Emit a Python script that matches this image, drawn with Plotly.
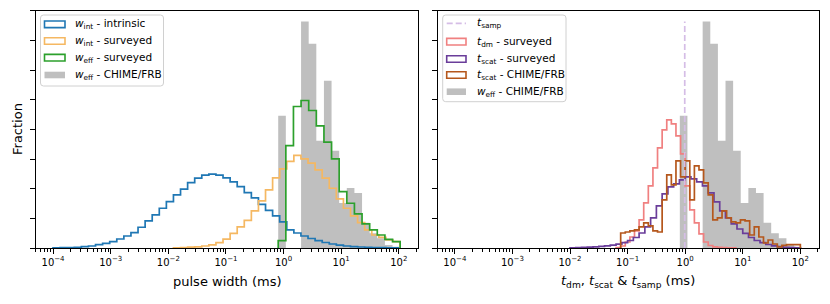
import numpy as np
import plotly.graph_objects as go

# ---------------- data ----------------
# histogram bins (log10 of ms): start, width, count
WINT_LOG0, WINT_DLOG, WINT_N = -4.0, 0.1229, 49
WEFF_LOG0, WEFF_DLOG, WEFF_N = -0.093, 0.13225, 16
TDM_LOG0, TDM_DLOG = -1.20, 0.08
TSCAT_LOG0, TSCAT_DLOG = -2.00, 0.10
TCHIME_LOG0, TCHIME_DLOG = -1.12, 0.08
SURV_START_BIN = 17   # first w_int bin with surveyed counts

# fractions (percent)
w_int_intrinsic = [0.007, 0.010, 0.014, 0.024, 0.044, 0.068, 0.111, 0.159, 0.213, 0.304,
                   0.405, 0.517, 0.699, 0.912, 1.114, 1.340, 1.563, 1.789, 1.982, 2.205,
                   2.353, 2.454, 2.488, 2.454, 2.363, 2.228, 2.069, 1.867, 1.688, 1.469,
                   1.266, 1.080, 0.878, 0.608, 0.506, 0.405, 0.321, 0.246, 0.186, 0.135,
                   0.095, 0.068, 0.047, 0.034, 0.024, 0.017, 0.010, 0.007, 0.003]
w_int_surveyed = [0.007, 0.014, 0.027, 0.041, 0.068, 0.108, 0.179, 0.297, 0.490, 0.709,
                  0.928, 1.249, 1.587, 1.958, 2.363, 2.667, 2.920, 3.123, 3.005, 2.859,
                  2.633, 2.353, 2.015, 1.654, 1.340, 1.080, 0.854, 0.608, 0.439, 0.361,
                  0.270, 0.213]
w_eff_surveyed = [0.246, 3.454, 4.770, 4.973, 4.635, 4.119, 3.568, 3.005, 1.901, 1.509,
                  1.148, 0.810, 0.608, 0.439, 0.294, 0.213]
w_eff_chime = [4.456, 0.0, 0.0, 7.640, 6.887, 3.612, 5.638, 3.275, 1.519, 2.026,
               1.857, 0.854, 0.496, 0.327, 0.101, 0.044]
t_dm_surveyed = [0.017, 0.068, 0.203, 0.371, 0.574, 0.945, 1.519, 2.093, 2.701, 3.376,
                 3.984, 4.321, 4.186, 3.781, 3.173, 2.093, 1.283, 0.844, 0.473, 0.203,
                 0.084, 0.041, 0.024, 0.014, 0.007, 0.003]
t_scat_surveyed = [0.007, 0.014, 0.020, 0.030, 0.041, 0.054, 0.071, 0.095, 0.128, 0.179,
                   0.253, 0.354, 0.506, 0.709, 1.013, 1.418, 1.823, 2.059, 2.161, 2.296,
                   2.397, 2.329, 2.228, 2.093, 1.857, 1.553, 1.249, 1.013, 0.810, 0.641,
                   0.490, 0.354, 0.253, 0.179, 0.118, 0.074, 0.044, 0.024, 0.014, 0.007]
t_scat_chime = [0.506, 0.540, 0.574, 0.608, 0.709, 0.844, 0.743, 0.574, 0.540, 1.620,
                2.464, 2.127, 2.937, 2.397, 2.937, 1.620, 2.768, 2.633, 2.194, 1.789,
                0.945, 1.013, 1.249, 1.013, 0.878, 0.844, 0.945, 0.912, 0.439, 0.709,
                0.371, 0.169, 0.270, 0.135, 0.034, 0.091, 0.111, 0.111, 0.111]
t_samp = 0.983  # ms

tick_vals = [1e-4, 1e-3, 1e-2, 1e-1, 1e0, 1e1, 1e2]
tick_text = ["10<sup>\u22124</sup>", "10<sup>\u22123</sup>", "10<sup>\u22122</sup>",
             "10<sup>\u22121</sup>", "10<sup>0</sup>", "10<sup>1</sup>", "10<sup>2</sup>"]

# ---------------- colours ----------------
C_BLUE = "#1f77b4"
C_ORANGE = "#f5b862"
C_GREEN = "#2ca02c"
C_GRAY = "#bfbfbf"
C_SALMON = "#f08080"
C_PURPLE = "#6a3d9a"
C_BROWN = "#b5571c"
C_SAMP = "#d5bde6"
FONT = "DejaVu Sans"


def edges(log0, dlog, n):
    return 10 ** (log0 + dlog * np.arange(n + 1))


def step_xy(e, h):
    x = [e[0]] + list(e[:-1]) + [e[-1]]
    y = [0] + list(h) + [0]
    return x, y


fig = go.Figure()

e_int = edges(WINT_LOG0, WINT_DLOG, WINT_N)
e_surv = e_int[SURV_START_BIN:SURV_START_BIN + len(w_int_surveyed) + 1]
e_eff = edges(WEFF_LOG0, WEFF_DLOG, WEFF_N)
e_dm = edges(TDM_LOG0, TDM_DLOG, len(t_dm_surveyed))
e_sc = edges(TSCAT_LOG0, TSCAT_DLOG, len(t_scat_surveyed))
e_ch = edges(TCHIME_LOG0, TCHIME_DLOG, len(t_scat_chime))


def add_fill(e, h, xa, ya):
    x, y = step_xy(e, h)
    fig.add_trace(go.Scatter(x=x, y=y, mode="lines", line=dict(shape="hv", width=0, color=C_GRAY),
                             fill="tozeroy", fillcolor=C_GRAY, xaxis=xa, yaxis=ya,
                             showlegend=False, hoverinfo="skip"))


def add_step(e, h, color, xa, ya, width=1.7):
    x, y = step_xy(e, h)
    fig.add_trace(go.Scatter(x=x, y=y, mode="lines", line=dict(shape="hv", width=width, color=color),
                             xaxis=xa, yaxis=ya, showlegend=False, hoverinfo="skip"))


# left panel
add_fill(e_eff, w_eff_chime, "x", "y")
add_step(e_int, w_int_intrinsic, C_BLUE, "x", "y")
add_step(e_surv, w_int_surveyed, C_ORANGE, "x", "y")
add_step(e_eff, w_eff_surveyed, C_GREEN, "x", "y")

# right panel
add_fill(e_eff, w_eff_chime, "x2", "y2")
add_step(e_dm, t_dm_surveyed, C_SALMON, "x2", "y2")
add_step(e_sc, t_scat_surveyed, C_PURPLE, "x2", "y2")
add_step(e_ch, t_scat_chime, C_BROWN, "x2", "y2")
fig.add_trace(go.Scatter(x=[t_samp, t_samp], y=[0, max(w_eff_chime)], mode="lines",
                         line=dict(color=C_SAMP, width=1.7, dash="6px,3px"),
                         xaxis="x2", yaxis="y2", showlegend=False, hoverinfo="skip"))

W, H = 830, 304
minor_vals = [m * 10.0 ** k for k in range(-5, 3) for m in range(2, 10)]

xcommon = dict(type="log", range=[-4.301, 2.324], showline=True, linecolor="black", linewidth=1,
               mirror=True, ticks="outside", ticklen=4.5, tickwidth=0.9, tickcolor="black",
               tickmode="array", tickvals=tick_vals, ticktext=tick_text, showgrid=False,
               zeroline=False, tickfont=dict(family=FONT, size=10, color="black"),
               minor=dict(ticks="outside", ticklen=2.5, tickwidth=0.7, tickcolor="black",
                          tickmode="array", tickvals=minor_vals, showgrid=False))
ycommon = dict(range=[0, 8], showline=True, linecolor="black", linewidth=1, mirror=True,
               ticks="outside", ticklen=4.5, tickwidth=0.9, tickcolor="black", dtick=1,
               tick0=0, showticklabels=False, showgrid=False, zeroline=False)

ydom = [1 - 248 / H, 1 - 10.7 / H]
fig.update_layout(
    width=W, height=H, margin=dict(l=0, r=0, t=0, b=0),
    paper_bgcolor="white", plot_bgcolor="white", showlegend=False,
    xaxis=dict(domain=[35.7 / W, 417.5 / W], anchor="y", **xcommon),
    yaxis=dict(domain=ydom, anchor="x", **ycommon),
    xaxis2=dict(domain=[437.5 / W, 819 / W], anchor="y2", **xcommon),
    yaxis2=dict(domain=ydom, anchor="x2", **ycommon),
    font=dict(family=FONT, color="black"),
)


def px(x):
    return x / W


def py(y):
    return 1 - y / H


shapes = []
annotations = []


def legend_box(x0, y0, x1, y1, r=3):
    rx, ry = r / W, r / H
    X0, X1, Y0, Y1 = px(x0), px(x1), py(y1), py(y0)
    path = (f"M {X0+rx},{Y0} L {X1-rx},{Y0} Q {X1},{Y0} {X1},{Y0+ry} L {X1},{Y1-ry} "
            f"Q {X1},{Y1} {X1-rx},{Y1} L {X0+rx},{Y1} Q {X0},{Y1} {X0},{Y1-ry} "
            f"L {X0},{Y0+ry} Q {X0},{Y0} {X0+rx},{Y0} Z")
    shapes.append(dict(type="path", xref="paper", yref="paper", path=path,
                       fillcolor="rgba(255,255,255,0.85)", line=dict(color="#d0d0d0", width=1)))


def legend_rect(x0, x1, yc, color, filled=False, hh=3.3):
    if filled:
        shapes.append(dict(type="rect", xref="paper", yref="paper", x0=px(x0), x1=px(x1),
                           y0=py(yc + hh), y1=py(yc - hh), fillcolor=color, line=dict(width=0)))
    else:
        shapes.append(dict(type="rect", xref="paper", yref="paper", x0=px(x0), x1=px(x1),
                           y0=py(yc + hh), y1=py(yc - hh), fillcolor="rgba(0,0,0,0)",
                           line=dict(color=color, width=1.6)))


def legend_text(x, yc, text):
    annotations.append(dict(xref="paper", yref="paper", x=px(x), y=py(yc), text=text,
                            showarrow=False, xanchor="left", yanchor="middle",
                            font=dict(family=FONT, size=10.5, color="black")))


# left legend
legend_box(40.5, 15, 163.5, 86)
left_rows = [(24.3, C_BLUE, False, "<i>w</i><sub>int</sub> - intrinsic"),
             (41.0, C_ORANGE, False, "<i>w</i><sub>int</sub> - surveyed"),
             (57.7, C_GREEN, False, "<i>w</i><sub>eff</sub> - surveyed"),
             (75.0, C_GRAY, True, "<i>w</i><sub>eff</sub> - CHIME/FRB")]
for yc, col, filled, txt in left_rows:
    legend_rect(44.5, 65, yc, col, filled)
    legend_text(72.5, yc, txt)

# right legend
legend_box(442.7, 15, 566, 101.7)
shapes.append(dict(type="line", xref="paper", yref="paper", x0=px(446.7), x1=px(466),
                   y0=py(23.3), y1=py(23.3), line=dict(color=C_SAMP, width=1.7, dash="6px,3px")))
legend_text(475, 23.3, "<i>t</i><sub>samp</sub>")
right_rows = [(41.7, C_SALMON, False, "<i>t</i><sub>dm</sub> - surveyed"),
              (59.0, C_PURPLE, False, "<i>t</i><sub>scat</sub> - surveyed"),
              (75.0, C_BROWN, False, "<i>t</i><sub>scat</sub> - CHIME/FRB"),
              (91.7, C_GRAY, True, "<i>w</i><sub>eff</sub> - CHIME/FRB")]
for yc, col, filled, txt in right_rows:
    legend_rect(446.7, 466, yc, col, filled)
    legend_text(475, yc, txt)

# axis titles
annotations.append(dict(xref="paper", yref="paper", x=px(227), y=py(281), text="pulse width (ms)",
                        showarrow=False, xanchor="center", yanchor="middle",
                        font=dict(family=FONT, size=13, color="black")))
annotations.append(dict(xref="paper", yref="paper", x=px(628), y=py(281),
                        text="<i>t</i><sub>dm</sub>, <i>t</i><sub>scat</sub> &amp; <i>t</i><sub>samp</sub> (ms)",
                        showarrow=False, xanchor="center", yanchor="middle",
                        font=dict(family=FONT, size=13, color="black")))
annotations.append(dict(xref="paper", yref="paper", x=px(17), y=py(129), text="Fraction",
                        showarrow=False, textangle=-90, xanchor="center", yanchor="middle",
                        font=dict(family=FONT, size=13, color="black")))

fig.update_layout(shapes=shapes, annotations=annotations)
fig.write_html("out.html", config={"displayModeBar": False},
               post_script="document.body.style.margin='0';")
